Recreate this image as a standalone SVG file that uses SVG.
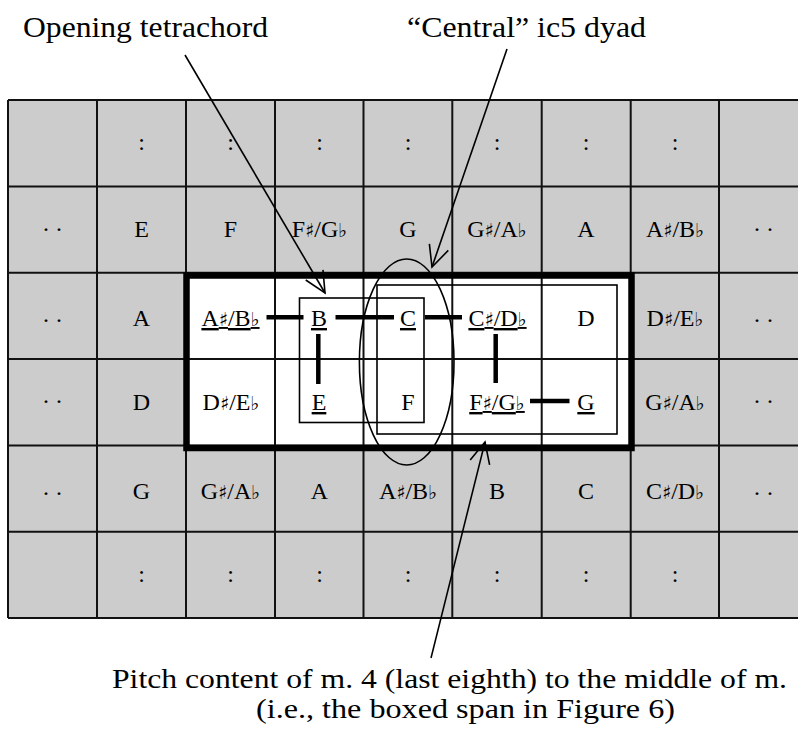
<svg xmlns="http://www.w3.org/2000/svg" width="798" height="731" viewBox="0 0 798 731" font-family="'Liberation Serif', 'Times New Roman', Times, serif">
<style>
text{font-family:'Liberation Serif','Times New Roman',Times,serif}
.t{font-size:24px;fill:#000;text-anchor:middle}
.u{text-decoration:underline}
.a{font-family:'DejaVu Sans',sans-serif;font-size:19px}
.d{letter-spacing:5px}
.lbl{font-size:29px;fill:#000}
.lbl2{font-size:27px;fill:#000}
.grid{stroke:#111;stroke-width:2;fill:none}
.lnk{stroke:#000;stroke-width:4.5;stroke-linecap:butt}
.arr{stroke:#000;stroke-width:1.6;fill:none}
</style>
<defs>
<marker id="ah" markerUnits="userSpaceOnUse" markerWidth="40" markerHeight="40" refX="0" refY="0" orient="auto" viewBox="-30 -20 40 40" overflow="visible">
<path d="M-21,-10 L0,0 L-21,10" fill="none" stroke="#000" stroke-width="1.6"/>
</marker>
</defs>
<rect width="798" height="731" fill="#fff"/>
<g id="grid">
<rect x="8" y="100" width="800" height="518" fill="#cccccc"/>
<rect x="186" y="272.7" width="445" height="173" fill="#fff"/>
<path class="grid" d="M8,100H798M8,186.5H798M8,272.7H798M8,359H798M8,445.5H798M8,531.7H798M8,618H798M8,100V618M97,100V618M186,100V618M275,100V618M363.5,100V618M452.3,100V618M541.7,100V618M630.7,100V618M719,100V618"/>
</g>
<g id="row0">
<text class="t" x="141.5" y="150">:</text><text class="t" x="230.5" y="150">:</text><text class="t" x="319.5" y="150">:</text><text class="t" x="408" y="150">:</text><text class="t" x="497" y="150">:</text><text class="t" x="586" y="150">:</text><text class="t" x="675" y="150">:</text>
</g>
<g id="row1">
<text class="t d" x="55" y="237">··</text>
<text class="t" x="141.5" y="237">E</text>
<text class="t" x="230.5" y="237">F</text>
<text class="t" x="319.5" y="237">F<tspan class="a">♯</tspan>/G<tspan class="a">♭</tspan></text>
<text class="t" x="408" y="237">G</text>
<text class="t" x="497" y="237">G<tspan class="a">♯</tspan>/A<tspan class="a">♭</tspan></text>
<text class="t" x="586" y="237">A</text>
<text class="t" x="675" y="237">A<tspan class="a">♯</tspan>/B<tspan class="a">♭</tspan></text>
<text class="t d" x="766" y="237">··</text>
</g>
<g id="row2">
<text class="t d" x="55" y="328">··</text>
<text class="t" x="141.5" y="326">A</text>
<text class="t u" x="230.5" y="326">A<tspan class="a">♯</tspan>/B<tspan class="a">♭</tspan></text>
<text class="t u" x="319" y="326">B</text>
<text class="t u" x="408" y="326">C</text>
<text class="t u" x="497.5" y="326">C<tspan class="a">♯</tspan>/D<tspan class="a">♭</tspan></text>
<text class="t" x="586" y="326">D</text>
<text class="t" x="675" y="326">D<tspan class="a">♯</tspan>/E<tspan class="a">♭</tspan></text>
<text class="t d" x="766" y="328">··</text>
</g>
<g id="row3">
<text class="t d" x="55" y="409">··</text>
<text class="t" x="141.5" y="410">D</text>
<text class="t" x="231" y="410">D<tspan class="a">♯</tspan>/E<tspan class="a">♭</tspan></text>
<text class="t u" x="319" y="410">E</text>
<text class="t" x="408" y="410">F</text>
<text class="t u" x="497" y="410">F<tspan class="a">♯</tspan>/G<tspan class="a">♭</tspan></text>
<text class="t u" x="586" y="410">G</text>
<text class="t" x="675" y="410">G<tspan class="a">♯</tspan>/A<tspan class="a">♭</tspan></text>
<text class="t d" x="766" y="409">··</text>
</g>
<g id="row4">
<text class="t d" x="55" y="501">··</text>
<text class="t" x="141.5" y="499">G</text>
<text class="t" x="230.5" y="499">G<tspan class="a">♯</tspan>/A<tspan class="a">♭</tspan></text>
<text class="t" x="319.5" y="499">A</text>
<text class="t" x="408" y="499">A<tspan class="a">♯</tspan>/B<tspan class="a">♭</tspan></text>
<text class="t" x="497" y="499">B</text>
<text class="t" x="586" y="499">C</text>
<text class="t" x="675" y="499">C<tspan class="a">♯</tspan>/D<tspan class="a">♭</tspan></text>
<text class="t d" x="766" y="501">··</text>
</g>
<g id="row5">
<text class="t" x="141.5" y="582">:</text><text class="t" x="230.5" y="582">:</text><text class="t" x="319.5" y="582">:</text><text class="t" x="408" y="582">:</text><text class="t" x="497" y="582">:</text><text class="t" x="586" y="582">:</text><text class="t" x="675" y="582">:</text>
</g>
<g id="span-box">
<rect x="186.5" y="275.5" width="445" height="172.5" fill="none" stroke="#000" stroke-width="6.5"/>
</g>
<g id="inner-box">
<rect x="377" y="285" width="240" height="149" fill="none" stroke="#000" stroke-width="1.6"/>
</g>
<g id="tetrachord-box">
<rect x="299.5" y="298" width="124.5" height="124.5" fill="none" stroke="#000" stroke-width="1.6"/>
</g>
<g id="dyad-ellipse">
<ellipse cx="406.7" cy="362" rx="47.3" ry="103" fill="none" stroke="#000" stroke-width="1.6"/>
</g>
<g id="connectors">
<line class="lnk" x1="266.5" y1="317.3" x2="303.5" y2="317.3"/>
<line class="lnk" x1="335.5" y1="317.3" x2="394" y2="317.3"/>
<line class="lnk" x1="425" y1="317.3" x2="462" y2="317.3"/>
<line class="lnk" x1="318.3" y1="334" x2="318.3" y2="384"/>
<line class="lnk" x1="495.7" y1="334" x2="495.7" y2="383"/>
<line class="lnk" x1="530" y1="401" x2="569.5" y2="401"/>
<line class="arr" x1="185" y1="55" x2="325" y2="293" marker-end="url(#ah)"/>
<line class="arr" x1="507" y1="49" x2="432" y2="267" marker-end="url(#ah)"/>
<line class="arr" x1="431" y1="658" x2="485" y2="442" marker-end="url(#ah)"/>
</g>
<g id="labels">
<text class="lbl" x="23" y="37" textLength="245" lengthAdjust="spacingAndGlyphs">Opening tetrachord</text>
<text class="lbl" x="407" y="37" textLength="239" lengthAdjust="spacingAndGlyphs">“Central” ic5 dyad</text>
<text class="lbl2" x="112" y="688" textLength="675" lengthAdjust="spacingAndGlyphs">Pitch content of m. 4 (last eighth) to the middle of m.</text>
<text class="lbl2" x="256" y="718" textLength="419" lengthAdjust="spacingAndGlyphs">(i.e., the boxed span in Figure 6)</text>
</g>
</svg>
